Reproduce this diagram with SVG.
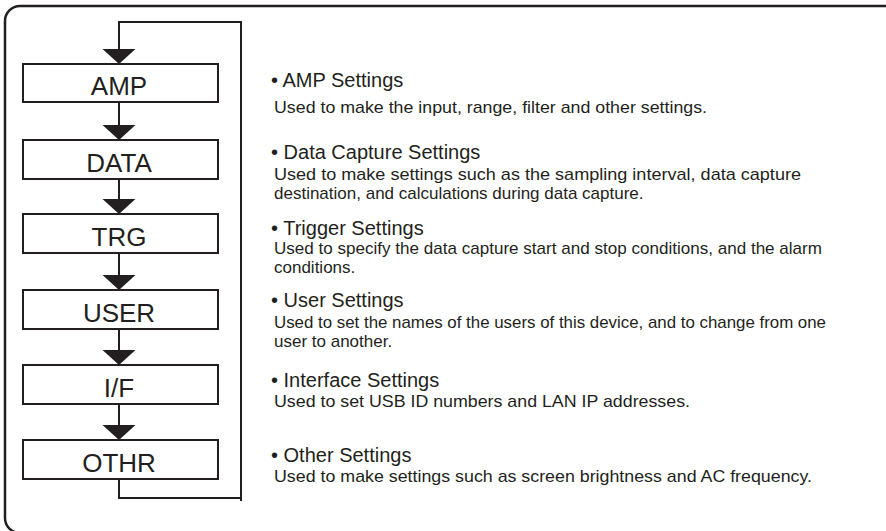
<svg xmlns="http://www.w3.org/2000/svg" width="886" height="531" viewBox="0 0 886 531">
<defs>
<marker id="arr" markerUnits="userSpaceOnUse" markerWidth="16" markerHeight="34" refX="15" refY="16.5" orient="auto">
<path d="M0,0 L15,16.5 L0,33 Z" fill="#231f20"/>
</marker>
<style>
.frame{fill:none;stroke:#231f20;stroke-width:2.5}
.box{fill:#fff;stroke:#231f20;stroke-width:2}
.lbl{font-family:"Liberation Sans",Arial,sans-serif;font-size:26px;fill:#231f20;text-anchor:middle}
.conn{fill:none;stroke:#231f20;stroke-width:2}
.ttl{font-family:"Liberation Sans",Arial,sans-serif;font-size:20px;fill:#231f20}
.dsc{font-family:"Liberation Sans",Arial,sans-serif;font-size:17px;fill:#231f20}
</style>
</defs>
<rect width="886" height="531" fill="#fff"/>
<path class="frame" d="M886 6 H20 A15 15 0 0 0 5 21 V518 A15 15 0 0 0 20 533"/>
<g id="connectors">
<path class="conn" d="M241 501 V22 H119 V64" marker-end="url(#arr)"/>
<path class="conn" d="M119 102 V140" marker-end="url(#arr)"/>
<path class="conn" d="M119 179 V214" marker-end="url(#arr)"/>
<path class="conn" d="M119 253 V290" marker-end="url(#arr)"/>
<path class="conn" d="M119 329 V365" marker-end="url(#arr)"/>
<path class="conn" d="M119 404 V440" marker-end="url(#arr)"/>
<path class="conn" d="M119 479 V498 H241"/>
</g>
<g id="amp"><rect class="box" x="23" y="64" width="195" height="38"/><text class="lbl" x="119" y="95">AMP</text></g>
<g id="data"><rect class="box" x="23" y="140" width="195" height="39"/><text class="lbl" x="119" y="172">DATA</text></g>
<g id="trg"><rect class="box" x="23" y="214" width="195" height="39"/><text class="lbl" x="119" y="246">TRG</text></g>
<g id="user"><rect class="box" x="23" y="290" width="195" height="39"/><text class="lbl" x="119" y="322">USER</text></g>
<g id="if"><rect class="box" x="23" y="365" width="195" height="39"/><text class="lbl" x="119" y="397">I/F</text></g>
<g id="othr"><rect class="box" x="23" y="440" width="195" height="39"/><text class="lbl" x="119" y="472">OTHR</text></g>
<g id="desc-amp">
<text class="ttl" x="271" y="87">• AMP Settings</text>
<text class="dsc" x="274" y="113" textLength="433" lengthAdjust="spacingAndGlyphs">Used to make the input, range, filter and other settings.</text>
</g>
<g id="desc-data">
<text class="ttl" x="271" y="159">• Data Capture Settings</text>
<text class="dsc" x="274" y="180" textLength="527" lengthAdjust="spacingAndGlyphs">Used to make settings such as the sampling interval, data capture</text>
<text class="dsc" x="274" y="199">destination, and calculations during data capture.</text>
</g>
<g id="desc-trg">
<text class="ttl" x="271" y="235">• Trigger Settings</text>
<text class="dsc" x="274" y="254" textLength="548" lengthAdjust="spacingAndGlyphs">Used to specify the data capture start and stop conditions, and the alarm</text>
<text class="dsc" x="274" y="273">conditions.</text>
</g>
<g id="desc-user">
<text class="ttl" x="271" y="307">• User Settings</text>
<text class="dsc" x="274" y="328" textLength="552" lengthAdjust="spacingAndGlyphs">Used to set the names of the users of this device, and to change from one</text>
<text class="dsc" x="274" y="347">user to another.</text>
</g>
<g id="desc-if">
<text class="ttl" x="271" y="387">• Interface Settings</text>
<text class="dsc" x="274" y="407" textLength="416" lengthAdjust="spacingAndGlyphs">Used to set USB ID numbers and LAN IP addresses.</text>
</g>
<g id="desc-othr">
<text class="ttl" x="271" y="462">• Other Settings</text>
<text class="dsc" x="274" y="482" textLength="538" lengthAdjust="spacingAndGlyphs">Used to make settings such as screen brightness and AC frequency.</text>
</g>
</svg>
